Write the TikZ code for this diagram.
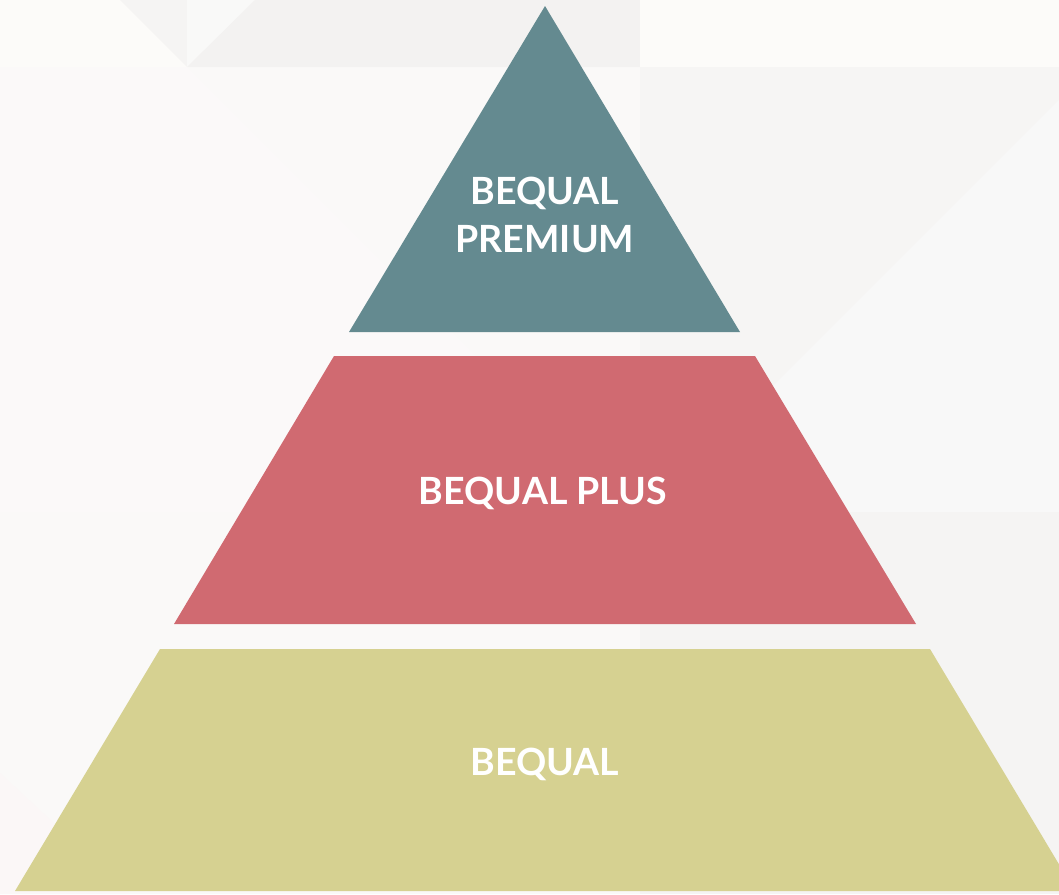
\documentclass[tikz,border=0pt]{standalone}
\usepackage{fontspec}
\newfontfamily\lblfont{Lato}
\definecolor{bgbase}{HTML}{FAF9F8}
\definecolor{bgA}{HTML}{FCFBF9}
\definecolor{bgB}{HTML}{F5F4F3}
\definecolor{bgC}{HTML}{F9F9F8}
\definecolor{bgD}{HTML}{F3F2F1}
\definecolor{bgE}{HTML}{F6F5F4}
\definecolor{bgF}{HTML}{F8F8F8}
\definecolor{bgG}{HTML}{FBF9F9}
\definecolor{bgH}{HTML}{FBF7F7}
\definecolor{tierTop}{HTML}{648A90}
\definecolor{tierMid}{HTML}{D06A71}
\definecolor{tierLow}{HTML}{D6D191}
\tikzset{
  tierlabel/.style={text=white, font=\lblfont\bfseries\fontsize{37.5}{45}\selectfont, inner sep=0pt, anchor=base},
}
\begin{document}
\begin{tikzpicture}[x=1pt,y=-1pt]
\useasboundingbox (0,0) rectangle (1059,894);
\clip (0,0) rectangle (1059,894);
% background
\fill[bgbase] (0,0) rectangle (1059,894);
\fill[bgA] (0,0) -- (120,0) -- (187,67) -- (0,67) -- cycle;
\fill[bgB] (120,0) -- (187,0) -- (187,67) -- cycle;
\fill[bgC] (187,0) -- (255,0) -- (187,67) -- cycle;
\fill[bgD] (255,0) -- (640,0) -- (640,67) -- (187,67) -- cycle;
\fill[bgA] (640,0) -- (1059,0) -- (1059,67) -- (640,67) -- cycle;
\fill[bgG] (0,67) -- (187,67) -- (632,512) -- (0,512) -- cycle;
\fill[bgE] (640,67) -- (1059,67) -- (1059,100) -- (647,512) -- (640,512) -- cycle;
\fill[bgF] (1059,100) -- (1059,512) -- (647,512) -- cycle;
\fill[bgB] (640,512) -- (1059,512) -- (1059,894) -- (640,894) -- cycle;
\fill[bgH] (0,773) -- (130,894) -- (0,894) -- cycle;
% pyramid
\coordinate (apex) at (545,6);
\coordinate (tl) at (349,332);
\coordinate (tr) at (740,332);
\fill[tierTop] (apex) -- (tr) -- (tl) -- cycle;
\coordinate (ml1) at (334,356);
\coordinate (mr1) at (755,356);
\coordinate (mr2) at (916,624);
\coordinate (ml2) at (174,624);
\fill[tierMid] (ml1) -- (mr1) -- (mr2) -- (ml2) -- cycle;
\coordinate (bl1) at (160,649);
\coordinate (br1) at (930,649);
\coordinate (br2) at (1075,891);
\coordinate (bl2) at (15,891);
\fill[tierLow] (bl1) -- (br1) -- (br2) -- (bl2) -- cycle;
% labels
\node[tierlabel] (premA) at (545,204) {BEQUAL};
\node[tierlabel] (premB) at (545,252) {PREMIUM};
\node[tierlabel] (plus) at (543,504) {BEQUAL PLUS};
\node[tierlabel] (basic) at (545,775) {BEQUAL};
\end{tikzpicture}
\end{document}
